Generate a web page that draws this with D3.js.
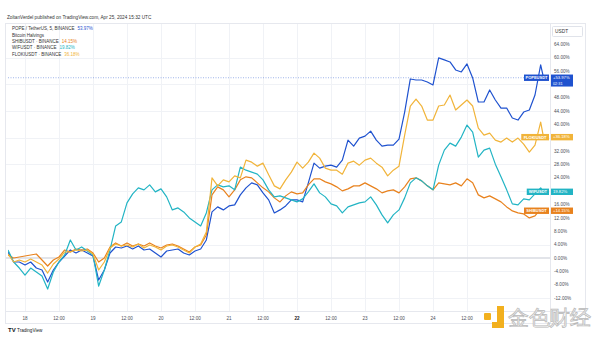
<!DOCTYPE html>
<html>
<head>
<meta charset="utf-8">
<script src="https://cdn.jsdelivr.net/npm/d3@7"></script>
<style>
  body { margin: 0; background: #fff; }
  svg { display: block; }
  text { font-family: "Liberation Sans", Arial, sans-serif; }
</style>
</head>
<body>
<svg id="chart" width="600" height="337"></svg>
<script>
// 2-hour samples of percent change since the first bar (Apr 17 18:00 UTC)
const startTime = Date.UTC(2024, 3, 17, 18);
const stepHours = 2;
const lastHour = 189;

const popeValues = [1.8,-1.2,-1.2,-2.1,-1.2,-3.0,-3.6,-7.2,-3.6,-1.2,0.6,2.4,1.5,2.4,1.5,0.6,-6.6,-3.6,1.5,3.3,
  3.0,3.6,2.7,3.6,2.4,2.7,1.5,0.3,2.1,2.4,2.7,1.5,0.9,2.1,2.7,5.4,13.8,15.3,14.4,15.6,
  15.9,18.9,21.0,22.5,21.9,19.5,17.4,13.5,14.4,15.6,17.4,17.4,16.8,22.5,28.4,26.9,27.5,27.8,27.2,29.3,
  35.3,33.5,35.9,36.5,38.0,35.3,33.5,33.8,33.8,35.6,43.7,53.6,53.3,53.3,52.7,51.8,59.9,59.3,58.7,56.3,
  55.7,58.1,53.9,46.7,46.7,50.3,47.3,44.9,44.9,41.9,41.3,43.7,44.3,48.8,57.8,53.97];

const shibValues = [0.9,0,0.3,0.6,0.9,1.2,-0.6,-2.4,-0.6,0.3,2.4,1.8,2.7,2.4,2.7,1.5,-1.2,0,3.3,4.5,
  3.6,4.5,3.6,4.2,3.6,4.5,3.6,3.0,3.9,4.2,3.6,2.7,1.8,3.3,3.9,6.9,18.9,21.3,20.4,18.3,
  20.4,23.4,24.3,24.0,22.5,21.0,19.8,18.0,16.8,18.6,19.8,19.2,19.5,21.9,23.7,23.7,22.8,22.2,21.3,20.1,
  20.7,21.6,21.6,22.5,21.6,20.7,19.5,20.1,20.4,19.5,21.3,23.7,24.0,23.1,21.6,20.4,22.5,22.2,21.9,22.5,
  21.6,23.7,22.5,18.9,18.0,18.6,17.7,16.8,15.3,14.1,13.5,13.2,12.0,12.6,14.7,14.15];

const wifValues = [2.4,-1.2,-3.0,-5.1,-3.0,-4.2,-5.4,-9.3,-4.2,-1.2,0.9,5.4,2.4,3.3,2.1,0.9,-8.4,-3.6,2.4,9.6,
  10.8,16.5,19.2,21.0,20.4,21.9,19.8,20.7,18.3,14.4,15.0,13.8,12.0,10.8,9.6,13.5,20.4,21.9,21.3,21.6,
  20.4,27.2,26.3,25.7,25.1,23.4,20.4,18.3,18.6,18.0,17.4,16.8,17.7,19.8,22.2,19.5,18.3,16.2,15.6,13.5,
  15.3,15.9,16.5,16.8,18.3,15.9,12.9,10.5,12.9,14.4,18.0,22.5,24.0,23.1,21.6,20.4,27.8,32.3,34.4,33.5,
  36.2,39.8,37.7,30.2,32.3,32.9,28.1,24.3,20.4,16.2,15.9,17.7,17.4,19.2,21.0,19.82];

const flokiValues = [1.2,-1.2,-0.6,-1.2,-0.3,-1.2,-2.1,-4.5,-1.8,-0.3,1.8,1.8,2.4,2.1,2.4,1.2,-3.6,-1.2,3.0,4.2,
  3.6,3.9,3.3,4.2,3.0,3.9,3.3,2.4,3.6,3.9,3.3,2.4,1.5,3.3,4.2,7.8,24.0,21.6,23.4,22.8,
  24.6,24.0,29.3,28.7,27.5,28.4,24.9,21.6,20.7,23.4,25.7,28.7,26.9,28.7,31.4,29.9,26.9,26.3,26.3,25.1,
  28.4,29.0,27.8,29.3,29.9,28.4,27.2,24.6,26.3,27.5,36.8,45.5,47.6,45.5,41.3,41.3,45.5,45.8,48.8,44.3,
  45.8,47.3,45.5,38.9,36.8,37.4,35.3,34.7,35.9,34.7,35.9,34.1,31.7,33.8,40.7,36.18];

const priceTicks = [-12,-8,-4,0,4,8,12,16,20,24,28,32,36,40,44,48,52,56,60,64];
const gridLevels = [-12,-4,4,12,20,28,36,44,52,60];

const series = [
  { name: "POPEUSDT", legend: "POPE / TetherUS, 5, BINANCE", values: popeValues, color: "#1f52cf", countdown: "02:31" },
  { name: "SHIBUSDT", legend: "SHIBUSDT · BINANCE", values: shibValues, color: "#e8821e" },
  { name: "WIFUSDT", legend: "WIFUSDT · BINANCE", values: wifValues, color: "#22b4c4" },
  { name: "FLOKIUSDT", legend: "FLOKIUSDT · BINANCE", values: flokiValues, color: "#f1b43a" }
];

const times = popeValues.map((_, i) =>
  new Date(startTime + (i < popeValues.length - 1 ? i * stepHours : lastHour) * 3600e3));

const svg = d3.select("#chart");
const plot = { left: 8, right: 550, top: 24, bottom: 311 };

const x = d3.scaleUtc()
  .domain([new Date(startTime), new Date(startTime + 192 * 3600e3)])
  .range([plot.left, plot.left + 8 * 68]);
const y = d3.scaleLinear().domain([0, 64]).range([258, 258 - 64 * 3.34]);

// frame
svg.append("rect").attr("x", 5.5).attr("y", 23.5).attr("width", 580).attr("height", 300)
  .attr("fill", "none").attr("stroke", "#e6e8ee");
svg.append("line").attr("x1", plot.right + 0.5).attr("x2", plot.right + 0.5)
  .attr("y1", 23.5).attr("y2", 323.5).attr("stroke", "#e6e8ee");
svg.append("line").attr("x1", 5.5).attr("x2", 585.5)
  .attr("y1", plot.bottom + 0.5).attr("y2", plot.bottom + 0.5).attr("stroke", "#e6e8ee");

// grid
const timeTicks = d3.utcHour.every(12).range(new Date(Date.UTC(2024, 3, 18)), new Date(Date.UTC(2024, 3, 25)));
svg.append("g").selectAll("line").data(timeTicks).join("line")
  .attr("x1", d => Math.round(x(d)) + 0.5).attr("x2", d => Math.round(x(d)) + 0.5)
  .attr("y1", plot.top).attr("y2", plot.bottom).attr("stroke", "#f0f2f6");
svg.append("g").selectAll("line").data(gridLevels).join("line")
  .attr("x1", plot.left - 2).attr("x2", plot.right)
  .attr("y1", d => Math.round(y(d)) + 0.5).attr("y2", d => Math.round(y(d)) + 0.5)
  .attr("stroke", "#f0f2f6");
// zero baseline
svg.append("line").attr("x1", plot.left - 2).attr("x2", plot.right)
  .attr("y1", y(0)).attr("y2", y(0)).attr("stroke", "#d8dbe2").attr("stroke-width", 1.3);

// lines
svg.append("clipPath").attr("id", "plotclip").append("rect")
  .attr("x", plot.left).attr("y", plot.top).attr("width", plot.right - plot.left).attr("height", plot.bottom - plot.top);
const line = d3.line().x((d, i) => x(times[i])).y(d => y(d));
const gLines = svg.append("g").attr("clip-path", "url(#plotclip)");
series.forEach(s => {
  gLines.append("path").attr("d", line(s.values)).attr("fill", "none")
    .attr("stroke", s.color).attr("stroke-width", 1.2).attr("stroke-linejoin", "round");
});

// last-price dotted line for the main symbol
const popeLast = popeValues[popeValues.length - 1];
svg.append("line").attr("x1", plot.left).attr("x2", plot.right)
  .attr("y1", y(popeLast)).attr("y2", y(popeLast))
  .attr("stroke", "#1f52cf").attr("stroke-width", 0.6).attr("stroke-dasharray", "1,1.5").attr("opacity", 0.7);

// price scale
const axisG = svg.append("g");
const lastYs = series.map(s => y(s.values[s.values.length - 1]));
priceTicks.forEach(v => {
  const py = y(v);
  if (lastYs.some(ly => Math.abs(ly - py) < 5.5) || Math.abs(py - (lastYs[0] + 6)) < 5) return;
  axisG.append("text").attr("x", 554).attr("y", py).attr("dy", "0.35em")
    .attr("font-size", 4.6).attr("fill", "#4a4e58").text(v.toFixed(2) + "%");
});
svg.append("rect").attr("x", 552.5).attr("y", 26.5).attr("width", 30).attr("height", 10)
  .attr("fill", "#fff").attr("stroke", "#e0e3ea").attr("rx", 1);
svg.append("text").attr("x", 555).attr("y", 31.8).attr("dy", "0.35em").attr("font-size", 4.8)
  .attr("fill", "#333").text("USDT");

// last value labels
series.forEach(s => {
  const v = s.values[s.values.length - 1];
  const ly = y(v);
  const h = s.countdown ? 12 : 6.4;
  const top = ly - 3.2;
  const nameW = s.name.length * 2.75 + 3;
  svg.append("rect").attr("x", plot.right - 1 - nameW).attr("y", top).attr("width", nameW).attr("height", 6.4)
    .attr("fill", s.color);
  svg.append("text").attr("x", plot.right - 1 - nameW / 2).attr("y", ly).attr("dy", "0.35em")
    .attr("text-anchor", "middle").attr("font-size", 4).attr("font-weight", "bold")
    .attr("fill", "#fff").text(s.name);
  svg.append("rect").attr("x", plot.right + 1).attr("y", top).attr("width", 22).attr("height", h)
    .attr("fill", s.color);
  const label = (s.name === "WIFUSDT" ? "" : "+") + v.toFixed(2) + "%";
  svg.append("text").attr("x", plot.right + 3).attr("y", ly).attr("dy", "0.3em")
    .attr("font-size", 4.2).attr("fill", "#fff").text(label);
  if (s.countdown) {
    svg.append("text").attr("x", plot.right + 3).attr("y", ly + 5.6).attr("dy", "0.35em")
      .attr("font-size", 3.8).attr("fill", "#fff").text(s.countdown);
  }
});

// time scale labels
timeTicks.forEach(t => {
  const isDay = t.getUTCHours() === 0;
  const weekStart = isDay && t.getUTCDate() === 22;
  svg.append("text").attr("x", x(t)).attr("y", 318.5).attr("dy", "0.35em")
    .attr("text-anchor", "middle").attr("font-size", 4.6)
    .attr("font-weight", weekStart ? "bold" : "normal")
    .attr("fill", weekStart ? "#222" : "#4a4e58")
    .text(isDay ? String(t.getUTCDate()) : "12:00");
});

// header and legend
svg.append("text").attr("x", 7).attr("y", 18.5).attr("font-size", 4.7).attr("fill", "#333")
  .text("ZoltanVerdel published on TradingView.com, Apr 25, 2024 15:32 UTC");
const legendRows = [
  { label: series[0].legend, value: popeValues[popeValues.length - 1], color: series[0].color },
  { label: "Bitcoin Halvings" },
  { label: series[1].legend, value: shibValues[shibValues.length - 1], color: series[1].color },
  { label: series[2].legend, value: wifValues[wifValues.length - 1], color: series[2].color },
  { label: series[3].legend, value: flokiValues[flokiValues.length - 1], color: series[3].color }
];
legendRows.forEach((r, i) => {
  const t = svg.append("text").attr("x", 12).attr("y", 30.2 + i * 6.4).attr("font-size", 4.5).attr("fill", "#333");
  t.append("tspan").text(r.label);
  if (r.value !== undefined) {
    t.append("tspan").attr("dx", 3).attr("fill", r.color).text(r.value.toFixed(2) + "%");
  }
});

// TradingView footer mark
svg.append("text").attr("x", 8).attr("y", 332).attr("font-size", 6).attr("font-weight", "bold")
  .attr("fill", "#131722").text("TV");
svg.append("text").attr("x", 17).attr("y", 332).attr("font-size", 4.6).attr("fill", "#131722").text("TradingView");

// site watermark
const wm = svg.append("g");
wm.append("rect").attr("x", 484).attr("y", 313).attr("width", 7).attr("height", 7).attr("rx", 1).attr("fill", "#f2b01e");
wm.append("path").attr("d", "M497,306 h7 v22 h-12 v-6 h5 z").attr("fill", "#f2b01e");
wm.append("text").attr("x", 508).attr("y", 325).attr("font-size", 21)
  .attr("font-family", "'Noto Sans CJK SC', sans-serif")
  .attr("fill", "#f3f3f3").attr("stroke", "#b8b8b8").attr("stroke-width", 0.7)
  .attr("letter-spacing", -0.5).text("金色财经");
</script>
</body>
</html>
